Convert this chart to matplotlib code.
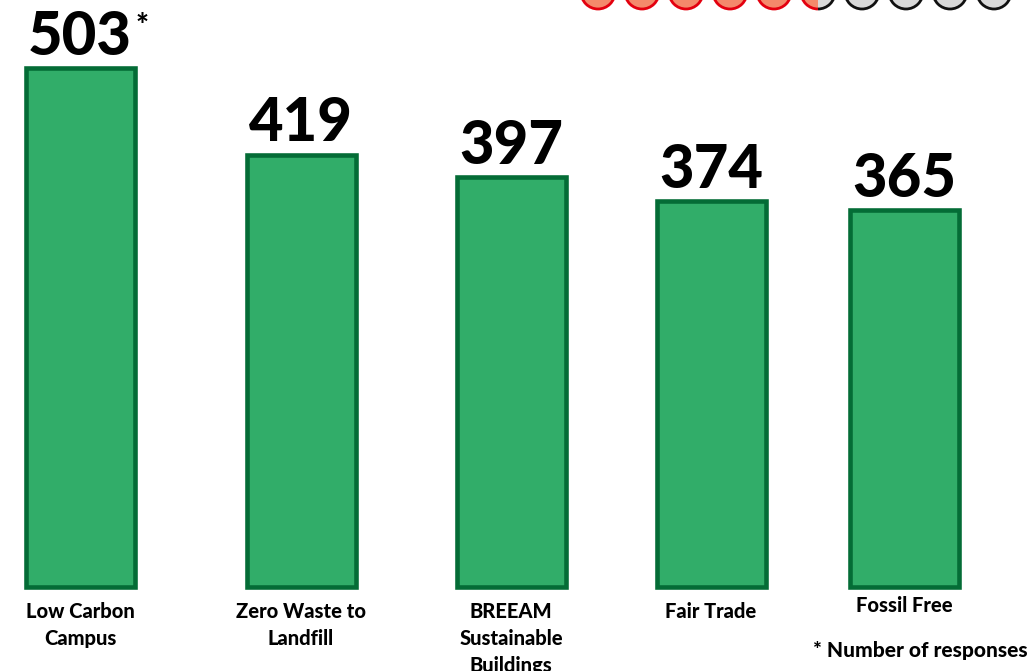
import matplotlib
matplotlib.use('Agg')
import matplotlib.pyplot as plt
from matplotlib.patches import Circle, Wedge, Arc

categories = ['Low Carbon\nCampus', 'Zero Waste to\nLandfill', 'BREEAM\nSustainable\nBuildings',
              'Fair Trade', 'Fossil Free']
responses = [503, 419, 397, 374, 365]
score = 5.5       # filled circles out of 10
n_circles = 10

# layout (pixel positions of bar centres, as in the original infographic)
x_pos = [80, 301, 511, 711, 904]
W, H = 1031, 671

plt.rcParams['font.family'] = ['Lato', 'DejaVu Sans']

fig = plt.figure(figsize=(W / 100, H / 100), dpi=100)
ax = fig.add_axes([0, 0, 1, 1])
ax.set_xlim(0, W)
ax.set_ylim(-81.4, 568.8)
ax.axis('off')

ax.bar(x_pos, responses, width=109, color='#31AD69', edgecolor='#046C36', linewidth=3.3)

for x, v in zip(x_pos, responses):
    ax.text(x, v + 3, str(v), ha='center', va='bottom', fontsize=43, fontweight='black')
ax.text(x_pos[0] + 56, responses[0] + 27, '*', ha='left', va='bottom', fontsize=22, fontweight='black')

# overlay in pixel coords for labels and circles
ov = fig.add_axes([0, 0, 1, 1])
ov.set_xlim(0, W)
ov.set_ylim(H, 0)
ov.axis('off')
ov.patch.set_alpha(0)

label_y = [602, 602, 602, 602, 596]
for x, lab, ly in zip(x_pos, categories, label_y):
    ov.text(x, ly, lab, ha='center', va='top', fontsize=14.5, fontweight='black', linespacing=1.5)
ov.text(813, 651, '* Number of responses', ha='left', va='center', fontsize=15, fontweight='black')

red_fill, red_edge = '#F4896B', '#E3000F'
grey_fill, grey_edge = '#D9D9D9', '#111111'
r = 17
for i in range(n_circles):
    cx, cy = 598 + 44 * i, -8
    if i + 1 <= score:
        ov.add_patch(Circle((cx, cy), r, facecolor=red_fill, edgecolor=red_edge, lw=2))
    elif i < score:
        ov.add_patch(Wedge((cx, cy), r, 90, 270, facecolor=red_fill, edgecolor='none'))
        ov.add_patch(Wedge((cx, cy), r, -90, 90, facecolor=grey_fill, edgecolor='none'))
        ov.add_patch(Arc((cx, cy), 2 * r, 2 * r, theta1=90, theta2=270, color=red_edge, lw=2))
        ov.add_patch(Arc((cx, cy), 2 * r, 2 * r, theta1=-90, theta2=90, color=grey_edge, lw=2))
    else:
        ov.add_patch(Circle((cx, cy), r, facecolor=grey_fill, edgecolor=grey_edge, lw=2))

fig.savefig('out.png', dpi=100)
